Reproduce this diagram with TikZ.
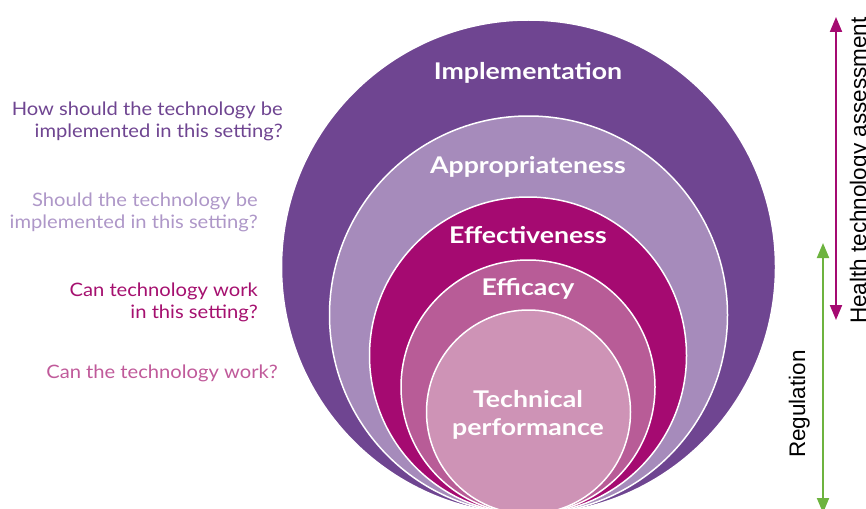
\documentclass[tikz,border=0pt]{standalone}
\usepackage{fontspec}
\setmainfont{Lato}
\newfontfamily\arialfont{Liberation Sans}
\newfontfamily\lblfont[FakeStretch=1.16]{Lato}
\newfontfamily\qfont[FakeStretch=1.09]{Lato}
\usetikzlibrary{arrows.meta}
\definecolor{cImpl}{HTML}{6F4591}
\definecolor{cAppr}{HTML}{A68BBB}
\definecolor{cEffe}{HTML}{A50A71}
\definecolor{cEffi}{HTML}{B85C97}
\definecolor{cTech}{HTML}{CE93B6}
\definecolor{qImpl}{HTML}{6F4591}
\definecolor{qAppr}{HTML}{AE97C8}
\definecolor{qEffe}{HTML}{A5106F}
\definecolor{qEffi}{HTML}{C05A9A}
\definecolor{cGreen}{HTML}{6DB33F}
\tikzset{
  ring/.style={circle, inner sep=0pt, draw=white, line width=1.5pt},
  ringlabel/.style={text=white, anchor=base, inner sep=0pt, font=\lblfont\fontsize{23}{26}\selectfont\bfseries},
  question/.style={anchor=east, align=right, inner sep=0pt, font=\qfont\fontsize{18.5}{22}\selectfont},
  sidelabel/.style={rotate=90, anchor=base west, inner sep=0pt, font=\arialfont\fontsize{22.5}{26}\selectfont},
  dblarrow/.style={line width=2pt, {Triangle[width=12pt,length=15pt]}-{Triangle[width=12pt,length=15pt]}}
}
\begin{document}
\begin{tikzpicture}[x=1pt,y=-1pt]
\useasboundingbox (0,0) rectangle (866,508);
\clip (0,0) rectangle (866,508);
% nested circles, tangent at the bottom
\node[ring, fill=cImpl, minimum size=494pt] (impl) at (528.5,267) {};
\node[ring, fill=cAppr, minimum size=398pt] (appr) at (528.5,315) {};
\node[ring, fill=cEffe, minimum size=317pt] (effe) at (528,355.5) {};
\node[ring, fill=cEffi, minimum size=254pt] (effi) at (528,387) {};
\node[ring, fill=cTech, minimum size=204pt] (tech) at (528.5,412) {};
% circle labels
\node[ringlabel] (limpl) at (528,80) {Implementation};
\node[ringlabel] (lappr) at (528,173) {Appropriateness};
\node[ringlabel] (leffe) at (528,243) {Effectiveness};
\node[ringlabel] (leffi) at (528,295) {Efficacy};
\node[ringlabel] (ltech1) at (528,407) {Technical};
\node[ringlabel] (ltech2) at (528,435) {performance};
% questions
\node[question, text=qImpl] (q1) at (283,121) {How should the technology be\\implemented in this setting?};
\node[question, text=qAppr] (q2) at (258,212) {Should the technology be\\implemented in this setting?};
\node[question, text=qEffe] (q3) at (258,302) {Can technology work\\in this setting?};
\node[question, text=qEffi] (q4) at (278,373) {Can the technology work?};
% arrows
\coordinate (htaTop) at (836,17);
\coordinate (htaBot) at (836,320);
\coordinate (regTop) at (823,243);
\coordinate (regBot) at (823,513);
\draw[dblarrow, draw=cEffe, fill=cEffe] (htaTop) -- (htaBot);
\draw[dblarrow, draw=cGreen, fill=cGreen] (regTop) -- (regBot);
% side labels
\node[sidelabel] (hta) at (866,324) {Health technology assessment};
\node[sidelabel] (reg) at (805,458) {Regulation};
\end{tikzpicture}
\end{document}
